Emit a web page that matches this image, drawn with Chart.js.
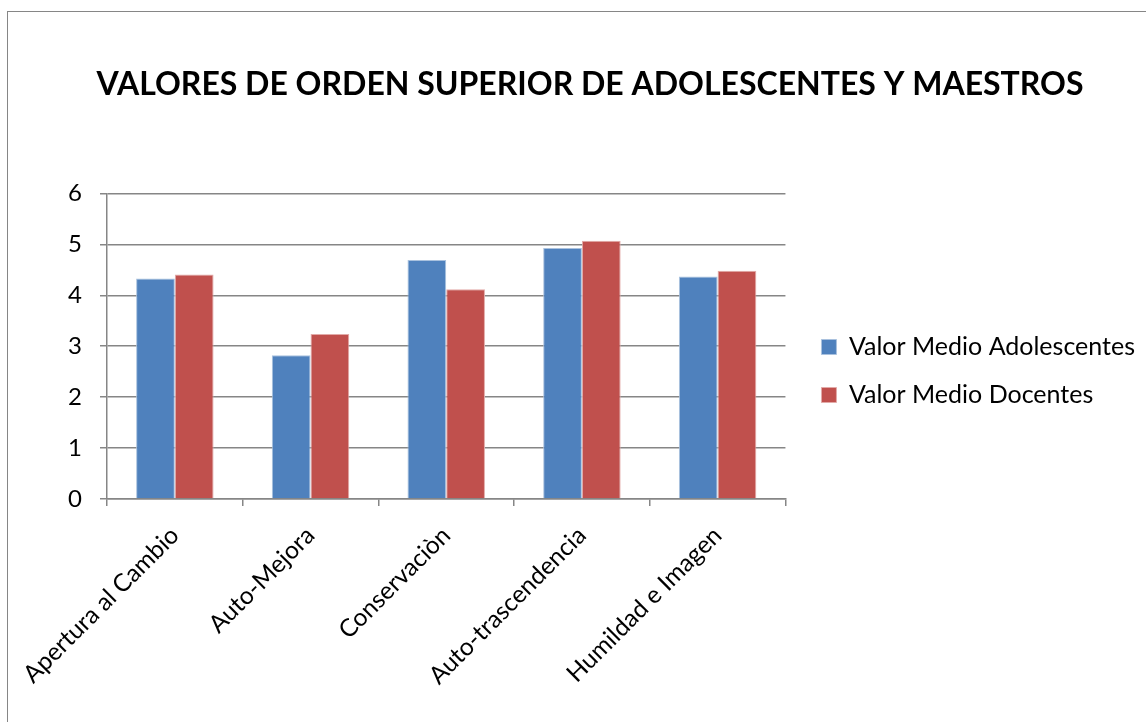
<!DOCTYPE html>
<html>
<head>
<meta charset="utf-8">
<script src="https://cdn.jsdelivr.net/npm/chart.js@4.4.1/dist/chart.umd.min.js"></script>
<style>
  html, body { margin: 0; padding: 0; background: #fff; }
  #wrap { position: relative; width: 1146px; height: 722px; overflow: hidden; }
  #frame { position: absolute; left: 7px; top: 11px; width: 1200px; height: 800px;
           border: 1.5px solid #868686; pointer-events: none; }
</style>
</head>
<body>
<div id="wrap">
  <canvas id="chart" width="1146" height="722"></canvas>
  <div id="frame"></div>
</div>
<script>
const categories = ['Apertura al Cambio', 'Auto-Mejora', 'Conservaciòn', 'Auto-trascendencia', 'Humildad e Imagen'];
const adolescentes = [4.33, 2.82, 4.69, 4.93, 4.37];
const docentes = [4.41, 3.24, 4.12, 5.07, 4.48];
const seriesNames = ['Valor Medio Adolescentes', 'Valor Medio Docentes'];
const chartTitle = 'VALORES DE ORDEN SUPERIOR DE ADOLESCENTES Y MAESTROS';

const axisGrey = '#868686';
const font = 'Lato';

// nudge title and legend to where the original sits (Excel centres them differently)
const nudge = {
  id: 'nudge',
  afterLayout(chart) {
    const t = chart.titleBlock;
    const dx = 590 - (t.left + t.right) / 2;
    t.left += dx;
    t.right += dx;
    const lg = chart.legend;
    lg.left += 13;
    lg.right += 13;
    lg.top += 10;
    lg.bottom += 10;
  }
};

new Chart(document.getElementById('chart'), {
  type: 'bar',
  data: {
    labels: categories,
    datasets: [
      { label: seriesNames[0], data: adolescentes, backgroundColor: '#4F81BD', borderColor: '#a9c1de', borderWidth: 1 },
      { label: seriesNames[1], data: docentes, backgroundColor: '#C0504D', borderColor: '#e2aaa8', borderWidth: 1 }
    ]
  },
  plugins: [nudge],
  options: {
    responsive: false,
    animation: false,
    layout: { padding: { left: 0, right: 14, top: 0, bottom: 0 } },
    datasets: { bar: { categoryPercentage: 0.571, barPercentage: 1 } },
    plugins: {
      title: {
        display: true,
        text: chartTitle,
        color: '#000',
        font: { family: font, size: 32, weight: 'bold' },
        padding: { top: 65, bottom: 90 }
      },
      legend: {
        position: 'right',
        maxWidth: 420,
        labels: {
          color: '#000',
          font: { family: font, size: 25 },
          boxWidth: 15,
          boxHeight: 15,
          padding: 23
        }
      },
      tooltip: { enabled: false }
    },
    scales: {
      x: {
        offset: true,
        grid: { display: true, drawOnChartArea: false, color: axisGrey, lineWidth: 1.5, tickLength: 7, offset: true },
        border: { color: axisGrey, width: 1.5 },
        ticks: { color: '#000', font: { family: font, size: 24.5 }, minRotation: 45, maxRotation: 45, padding: 15 },
        afterFit: (scale) => { scale.height = 223; }
      },
      y: {
        min: 0,
        max: 6,
        ticks: { stepSize: 1, color: '#000', font: { family: font, size: 24 }, padding: 18 },
        grid: { color: axisGrey, lineWidth: 1.5, tickLength: 7 },
        border: { color: axisGrey, width: 1.5 },
        afterFit: (scale) => { scale.width = 107; }
      }
    }
  }
});
</script>
</body>
</html>
